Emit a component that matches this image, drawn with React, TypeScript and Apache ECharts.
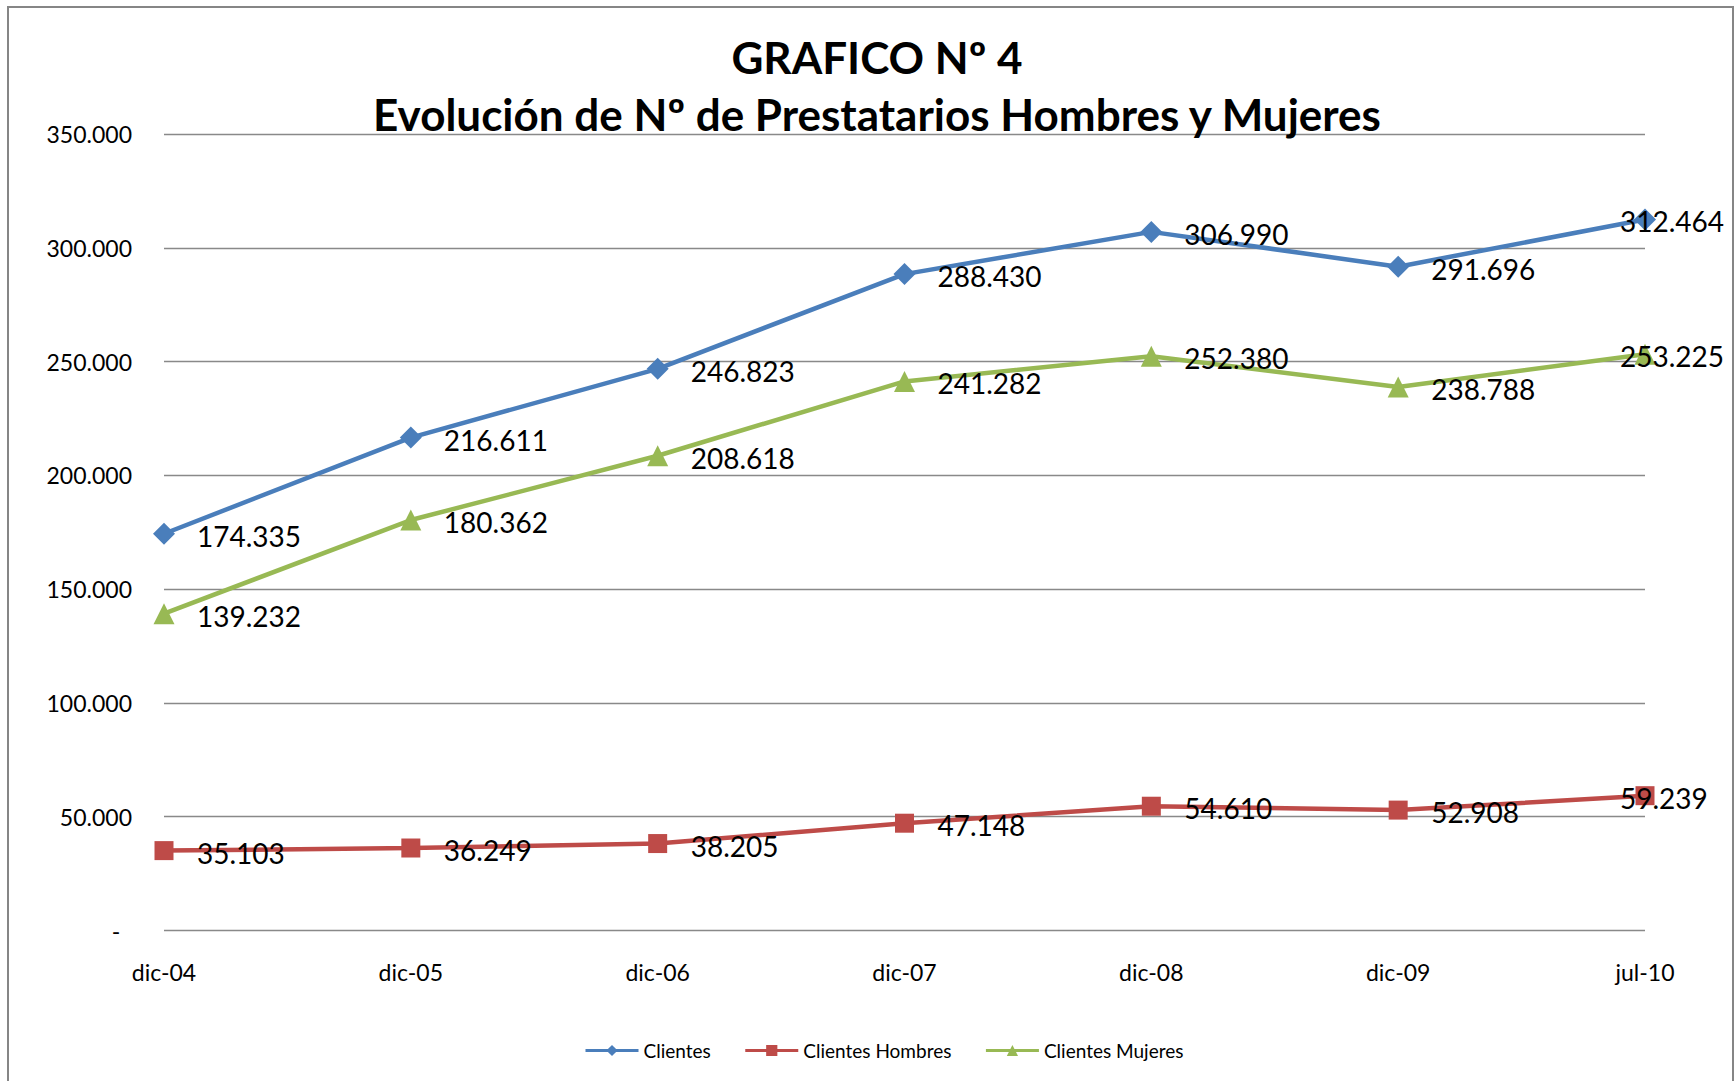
import React, { useEffect, useRef } from "react";
import * as echarts from "echarts";

const categories = ["dic-04", "dic-05", "dic-06", "dic-07", "dic-08", "dic-09", "jul-10"];
const clientes = [174335, 216611, 246823, 288430, 306990, 291696, 312464];
const hombres = [35103, 36249, 38205, 47148, 54610, 52908, 59239];
const mujeres = [139232, 180362, 208618, 241282, 252380, 238788, 253225];
const seriesNames = ["Clientes", "Clientes Hombres", "Clientes Mujeres"];
const titleLines = ["GRAFICO Nº 4", "Evolución de Nº de Prestatarios Hombres y Mujeres"];

const fmt = (v: number) => String(v).replace(/\B(?=(\d{3})+(?!\d))/g, ".");

export default function App() {
  const ref = useRef<HTMLDivElement>(null);
  useEffect(() => {
    document.body.style.margin = "0";
    const chart = echarts.init(ref.current!, undefined, { renderer: "svg" });
    const font = "Lato";
    const mkData = (arr: number[]) =>
      arr.map((v, i) => (i === arr.length - 1 ? { value: v, label: { offset: [-58, 2] } } : v));
    const mkSeries = (name: string, arr: number[], color: string, symbol: string, size: number) => ({
      name,
      type: "line",
      data: mkData(arr),
      symbol,
      symbolSize: size,
      lineStyle: { color, width: 4.5 },
      itemStyle: { color },
      label: {
        show: true,
        position: "right",
        distance: 33 - size / 2,
        offset: [0, 2],
        color: "#000",
        fontFamily: font,
        fontSize: 28,
        formatter: (p: any) => fmt(p.value),
      },
    });
    chart.setOption({
      animation: false,
      textStyle: { fontFamily: font },
      title: {
        text: titleLines.join("\n"),
        left: 872,
        top: 23,
        textAlign: "center",
        textStyle: { fontFamily: font, fontSize: 44, fontWeight: "bold", color: "#000", lineHeight: 57 },
      },
      legend: {
        data: seriesNames,
        left: 579,
        top: 1036,
        itemWidth: 53,
        itemHeight: 14,
        itemGap: 33,
        lineStyle: { width: 3 },
        textStyle: { fontFamily: font, fontSize: 19, color: "#000" },
      },
      graphic: [
        {
          type: "rect",
          shape: { x: 8, y: 7, width: 1725, height: 1100 },
          style: { fill: "none", stroke: "#868686", lineWidth: 2 },
          silent: true,
        },
      ],
      grid: { left: 164, right: 90, top: 134, bottom: 150.5 },
      xAxis: {
        type: "category",
        data: categories,
        boundaryGap: false,
        axisLine: { show: false },
        axisTick: { show: false },
        axisLabel: { color: "#000", fontFamily: font, fontSize: 23, margin: 30 },
        splitLine: { show: false },
      },
      yAxis: {
        type: "value",
        min: 0,
        max: 350000,
        interval: 50000,
        axisLine: { show: false },
        axisTick: { show: false },
        axisLabel: {
          color: "#000",
          fontFamily: font,
          fontSize: 23,
          margin: 32,
          formatter: (v: number) => (v === 0 ? "-\u00a0\u00a0" : fmt(v)),
        },
        splitLine: { lineStyle: { color: "#898989", width: 1.3 } },
      },
      series: [
        mkSeries(seriesNames[0], clientes, "#4A7EBB", "diamond", 22),
        mkSeries(seriesNames[1], hombres, "#BE4B48", "rect", 19),
        mkSeries(seriesNames[2], mujeres, "#98B954", "triangle", 21),
      ],
    });
    return () => chart.dispose();
  }, []);
  return <div ref={ref} style={{ width: 1735, height: 1081 }} />;
}
